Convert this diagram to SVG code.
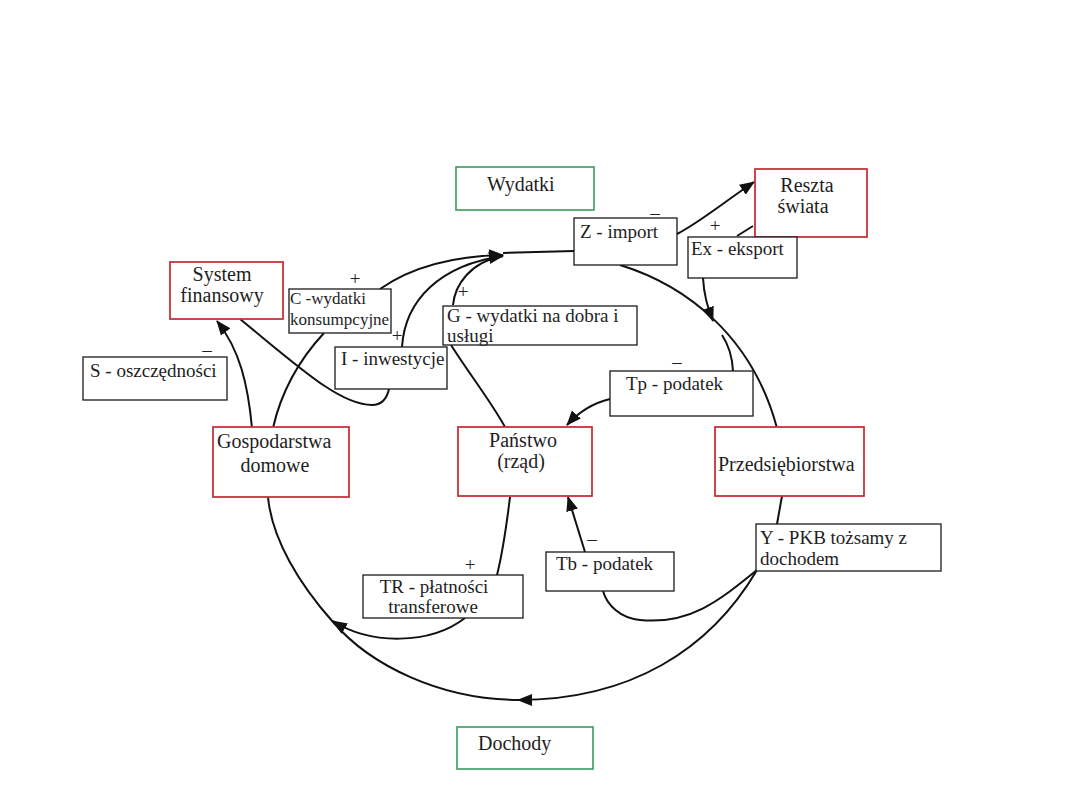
<svg xmlns="http://www.w3.org/2000/svg" width="1080" height="810" viewBox="0 0 1080 810">
<style>
text{font-family:"Liberation Serif","Times New Roman",serif;font-size:19px;fill:#1e1e1e}
.node{font-size:20px}
.small{font-size:17px}
.sign{font-size:19px}
.red{fill:#fff;stroke:#c8323c;stroke-width:1.8}
.green{fill:#fff;stroke:#3a9a5e;stroke-width:1.6}
.lab{fill:#fff;stroke:#1a1a1a;stroke-width:1.3}
.c{fill:none;stroke:#111;stroke-width:2}
.m{text-anchor:middle}
</style>
<defs>
<marker id="ah" markerUnits="userSpaceOnUse" markerWidth="16" markerHeight="14" refX="14" refY="7" orient="auto">
<path d="M0,1 L15,7 L0,13 Z" fill="#111"/>
</marker>
</defs>
<rect width="1080" height="810" fill="#fff"/>

<g id="connectors">
<path class="c" d="M380,289 C410,268 450,256 503,255" marker-end="url(#ah)"/>
<path class="c" d="M402,347 C405,300 440,265 503,256" marker-end="url(#ah)"/>
<path class="c" d="M453,305 C455,285 470,262 503,256"/>
<path class="c" d="M503,253 L574,251"/>
<path class="c" d="M273,428 Q285,375 324,333"/>
<path class="c" d="M252,428 C248,385 240,350 217,321" marker-end="url(#ah)"/>
<path class="c" d="M240,319 C300,368 340,405 372,405 C382,405 387,398 389,389"/>
<path class="c" d="M451,345 C470,375 490,400 505,427"/>
<path class="c" d="M677,234 C700,222 720,205 754,182" marker-end="url(#ah)"/>
<path class="c" d="M753,226 L737,236"/>
<path class="c" d="M703,278 C704,295 707,305 713,321" marker-end="url(#ah)"/>
<path class="c" d="M620,265 C685,285 752,335 777,428"/>
<path class="c" d="M722,335 Q732,350 733,371"/>
<path class="c" d="M610,399 Q585,405 567,425" marker-end="url(#ah)"/>
<path class="c" d="M782,496 L777,524"/>
<path class="c" d="M757,570 C720,600 690,625 640,620 C620,618 607,605 603,591"/>
<path class="c" d="M585,552 L568,497" marker-end="url(#ah)"/>
<path class="c" d="M757,570 C710,650 630,700 518,700" marker-end="url(#ah)"/>
<path class="c" d="M520,700 C440,700 370,665 333,622 C300,585 272,540 268,497"/>
<path class="c" d="M510,497 C506,530 502,555 497,575"/>
<path class="c" d="M465,618 C430,645 370,645 333,621" marker-end="url(#ah)"/>
</g>

<g id="wydatki"><rect class="green" x="456" y="167" width="138" height="43"/><text class="node" x="487" y="191">Wydatki</text></g>
<g id="dochody"><rect class="green" x="457" y="727" width="136" height="42"/><text class="node" x="478" y="750">Dochody</text></g>

<g id="system-finansowy"><rect class="red" x="170" y="262" width="113" height="57"/><text class="node m" x="222" y="281">System</text><text class="node m" x="222" y="302">finansowy</text></g>
<g id="reszta-swiata"><rect class="red" x="755" y="169" width="112" height="68"/><text class="node m" x="807" y="192">Reszta</text><text class="node m" x="803" y="213">świata</text></g>
<g id="gospodarstwa"><rect class="red" x="213" y="427" width="136" height="70"/><text class="node" x="217" y="448">Gospodarstwa</text><text class="node m" x="275" y="472">domowe</text></g>
<g id="panstwo"><rect class="red" x="458" y="427" width="134" height="69"/><text class="node m" x="523" y="447">Państwo</text><text class="node m" x="521" y="468">(rząd)</text></g>
<g id="przedsiebiorstwa"><rect class="red" x="715" y="427" width="149" height="69"/><text class="node" x="718" y="471">Przedsiębiorstwa</text></g>

<g id="z-import"><rect class="lab" x="574" y="218" width="103" height="47"/><text x="580" y="238">Z - import</text></g>
<g id="ex-eksport"><rect class="lab" x="688" y="237" width="109" height="41"/><text x="691" y="255">Ex - eksport</text></g>
<g id="c-wydatki"><rect class="lab" x="289" y="289" width="102" height="44"/><text class="small" x="290" y="304">C -wydatki</text><text class="small" x="290" y="325">konsumpcyjne</text></g>
<g id="g-wydatki"><rect class="lab" x="443" y="306" width="194" height="39"/><text x="447" y="322">G - wydatki na dobra i</text><text x="447" y="342">usługi</text></g>
<g id="i-inwestycje"><rect class="lab" x="335" y="347" width="112" height="42"/><text x="341" y="365">I - inwestycje</text></g>
<g id="s-oszczednosci"><rect class="lab" x="83" y="357" width="144" height="43"/><text x="90" y="377">S - oszczędności</text></g>
<g id="tp-podatek"><rect class="lab" x="610" y="371" width="143" height="45"/><text x="626" y="390">Tp - podatek</text></g>
<g id="tb-podatek"><rect class="lab" x="546" y="552" width="128" height="39"/><text x="556" y="570">Tb - podatek</text></g>
<g id="y-pkb"><rect class="lab" x="756" y="524" width="185" height="47"/><text x="760" y="544">Y - PKB tożsamy z</text><text x="760" y="565">dochodem</text></g>
<g id="tr-platnosci"><rect class="lab" x="363" y="575" width="160" height="43"/><text class="m" x="434" y="593">TR - płatności</text><text class="m" x="433" y="613">transferowe</text></g>

<g id="signs">
<text class="sign m" x="355" y="285">+</text>
<text class="sign m" x="655" y="219">–</text>
<text class="sign m" x="715" y="232">+</text>
<text class="sign m" x="463" y="298">+</text>
<text class="sign m" x="397" y="342">+</text>
<text class="sign m" x="207" y="356">–</text>
<text class="sign m" x="677" y="368">–</text>
<text class="sign m" x="470" y="571">+</text>
<text class="sign m" x="592" y="545">–</text>
</g>
</svg>
